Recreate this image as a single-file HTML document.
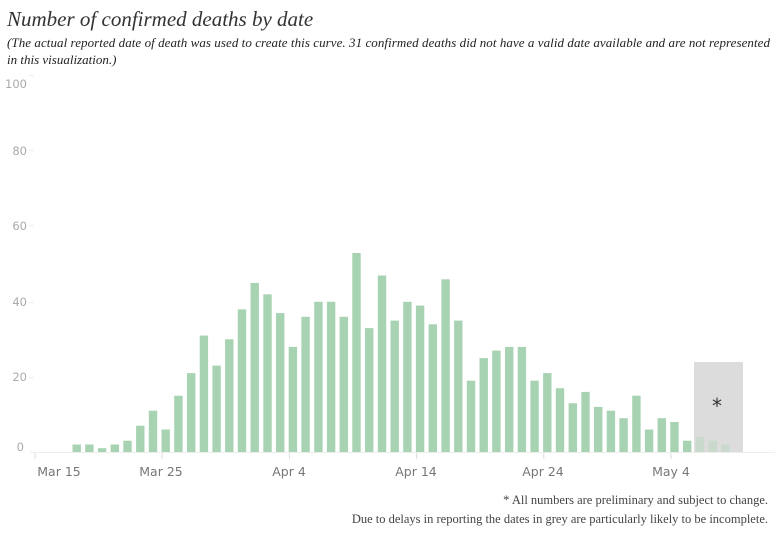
<!DOCTYPE html>
<html><head><meta charset="utf-8"><style>
html,body{margin:0;padding:0;background:#fff;}
svg{display:block;}
.ax{font-family:"DejaVu Sans","Liberation Sans",sans-serif;font-size:11.5px;fill:#aaa;}
.xl{font-family:"DejaVu Sans","Liberation Sans",sans-serif;font-size:12.5px;fill:#777;}
</style></head><body>
<svg width="775" height="549" xmlns="http://www.w3.org/2000/svg">
<text x="7" y="26" font-family="Liberation Serif,serif" font-style="italic" font-size="21" fill="#333">Number of confirmed deaths by date</text>
<text x="7" y="47" font-family="Liberation Serif,serif" font-style="italic" font-size="13" fill="#222" textLength="763" lengthAdjust="spacing">(The actual reported date of death was used to create this curve.  31 confirmed deaths did not have a valid date available and are not represented</text>
<text x="7" y="64" font-family="Liberation Serif,serif" font-style="italic" font-size="13" fill="#222">in this visualization.)</text>
<g class="ax" text-anchor="end">
<text x="27" y="88">100</text>
<text x="27" y="155">80</text>
<text x="27" y="230">60</text>
<text x="27" y="306">40</text>
<text x="27" y="381">20</text>
<text x="24" y="451">0</text>
</g>
<g stroke="#eee" stroke-width="1">
<line x1="29" y1="75.5" x2="34" y2="75.5"/><line x1="29" y1="150.5" x2="34" y2="150.5"/><line x1="29" y1="225.5" x2="34" y2="225.5"/><line x1="29" y1="302.5" x2="34" y2="302.5"/><line x1="29" y1="377.5" x2="34" y2="377.5"/>
<line x1="30" y1="452.5" x2="775" y2="452.5"/>
</g>
<g fill="#a8d3b3">
<rect x="72.5" y="444.5" width="8.4" height="7.5"/>
<rect x="85.2" y="444.5" width="8.4" height="7.5"/>
<rect x="97.9" y="448.2" width="8.4" height="3.8"/>
<rect x="110.6" y="444.5" width="8.4" height="7.5"/>
<rect x="123.3" y="440.7" width="8.4" height="11.3"/>
<rect x="136.1" y="425.7" width="8.4" height="26.3"/>
<rect x="148.8" y="410.7" width="8.4" height="41.3"/>
<rect x="161.5" y="429.5" width="8.4" height="22.5"/>
<rect x="174.2" y="395.7" width="8.4" height="56.3"/>
<rect x="187.0" y="373.1" width="8.4" height="78.9"/>
<rect x="199.7" y="335.6" width="8.4" height="116.4"/>
<rect x="212.4" y="365.6" width="8.4" height="86.4"/>
<rect x="225.1" y="339.3" width="8.4" height="112.7"/>
<rect x="237.8" y="309.3" width="8.4" height="142.7"/>
<rect x="250.5" y="283.0" width="8.4" height="169.0"/>
<rect x="263.3" y="294.3" width="8.4" height="157.7"/>
<rect x="276.0" y="313.1" width="8.4" height="138.9"/>
<rect x="288.7" y="346.9" width="8.4" height="105.1"/>
<rect x="301.4" y="316.8" width="8.4" height="135.2"/>
<rect x="314.2" y="301.8" width="8.4" height="150.2"/>
<rect x="326.9" y="301.8" width="8.4" height="150.2"/>
<rect x="339.6" y="316.8" width="8.4" height="135.2"/>
<rect x="352.3" y="253.0" width="8.4" height="199.0"/>
<rect x="365.0" y="328.1" width="8.4" height="123.9"/>
<rect x="377.8" y="275.5" width="8.4" height="176.5"/>
<rect x="390.5" y="320.6" width="8.4" height="131.4"/>
<rect x="403.2" y="301.8" width="8.4" height="150.2"/>
<rect x="415.9" y="305.6" width="8.4" height="146.4"/>
<rect x="428.6" y="324.3" width="8.4" height="127.7"/>
<rect x="441.4" y="279.3" width="8.4" height="172.7"/>
<rect x="454.1" y="320.6" width="8.4" height="131.4"/>
<rect x="466.8" y="380.7" width="8.4" height="71.3"/>
<rect x="479.5" y="358.1" width="8.4" height="93.9"/>
<rect x="492.2" y="350.6" width="8.4" height="101.4"/>
<rect x="505.0" y="346.9" width="8.4" height="105.1"/>
<rect x="517.7" y="346.9" width="8.4" height="105.1"/>
<rect x="530.4" y="380.7" width="8.4" height="71.3"/>
<rect x="543.1" y="373.1" width="8.4" height="78.9"/>
<rect x="555.8" y="388.2" width="8.4" height="63.8"/>
<rect x="568.6" y="403.2" width="8.4" height="48.8"/>
<rect x="581.3" y="391.9" width="8.4" height="60.1"/>
<rect x="594.0" y="406.9" width="8.4" height="45.1"/>
<rect x="606.7" y="410.7" width="8.4" height="41.3"/>
<rect x="619.4" y="418.2" width="8.4" height="33.8"/>
<rect x="632.2" y="395.7" width="8.4" height="56.3"/>
<rect x="644.9" y="429.5" width="8.4" height="22.5"/>
<rect x="657.6" y="418.2" width="8.4" height="33.8"/>
<rect x="670.3" y="422.0" width="8.4" height="30.0"/>
<rect x="683.0" y="440.7" width="8.4" height="11.3"/>
</g>
<rect x="694" y="362" width="49" height="90" fill="#dcdcdc"/>
<g fill="#c9d9cc">
<rect x="695.8" y="437.0" width="8.4" height="15.0"/>
<rect x="708.5" y="440.7" width="8.4" height="11.3"/>
<rect x="721.2" y="444.5" width="8.4" height="7.5"/>
</g>
<text x="717" y="413" text-anchor="middle" font-family="DejaVu Sans,sans-serif" font-size="20" fill="#333">*</text>
<g stroke="#ddd">
<line x1="35" y1="453" x2="35" y2="459"/><line x1="162.2" y1="453" x2="162.2" y2="459"/><line x1="289.4" y1="453" x2="289.4" y2="459"/><line x1="416.6" y1="453" x2="416.6" y2="459"/><line x1="543.8" y1="453" x2="543.8" y2="459"/><line x1="671" y1="453" x2="671" y2="459"/>
</g>
<g class="xl" text-anchor="middle">
<text x="59" y="476">Mar 15</text>
<text x="161" y="476">Mar 25</text>
<text x="289" y="476">Apr 4</text>
<text x="416" y="476">Apr 14</text>
<text x="543" y="476">Apr 24</text>
<text x="671" y="476">May 4</text>
</g>
<g font-family="Liberation Serif,serif" font-size="12.5" fill="#444" text-anchor="end">
<text x="768" y="504">* All numbers are preliminary and subject to change.</text>
<text x="768" y="523">Due to delays in reporting the dates in grey are particularly likely to be incomplete.</text>
</g>
</svg>
</body></html>
